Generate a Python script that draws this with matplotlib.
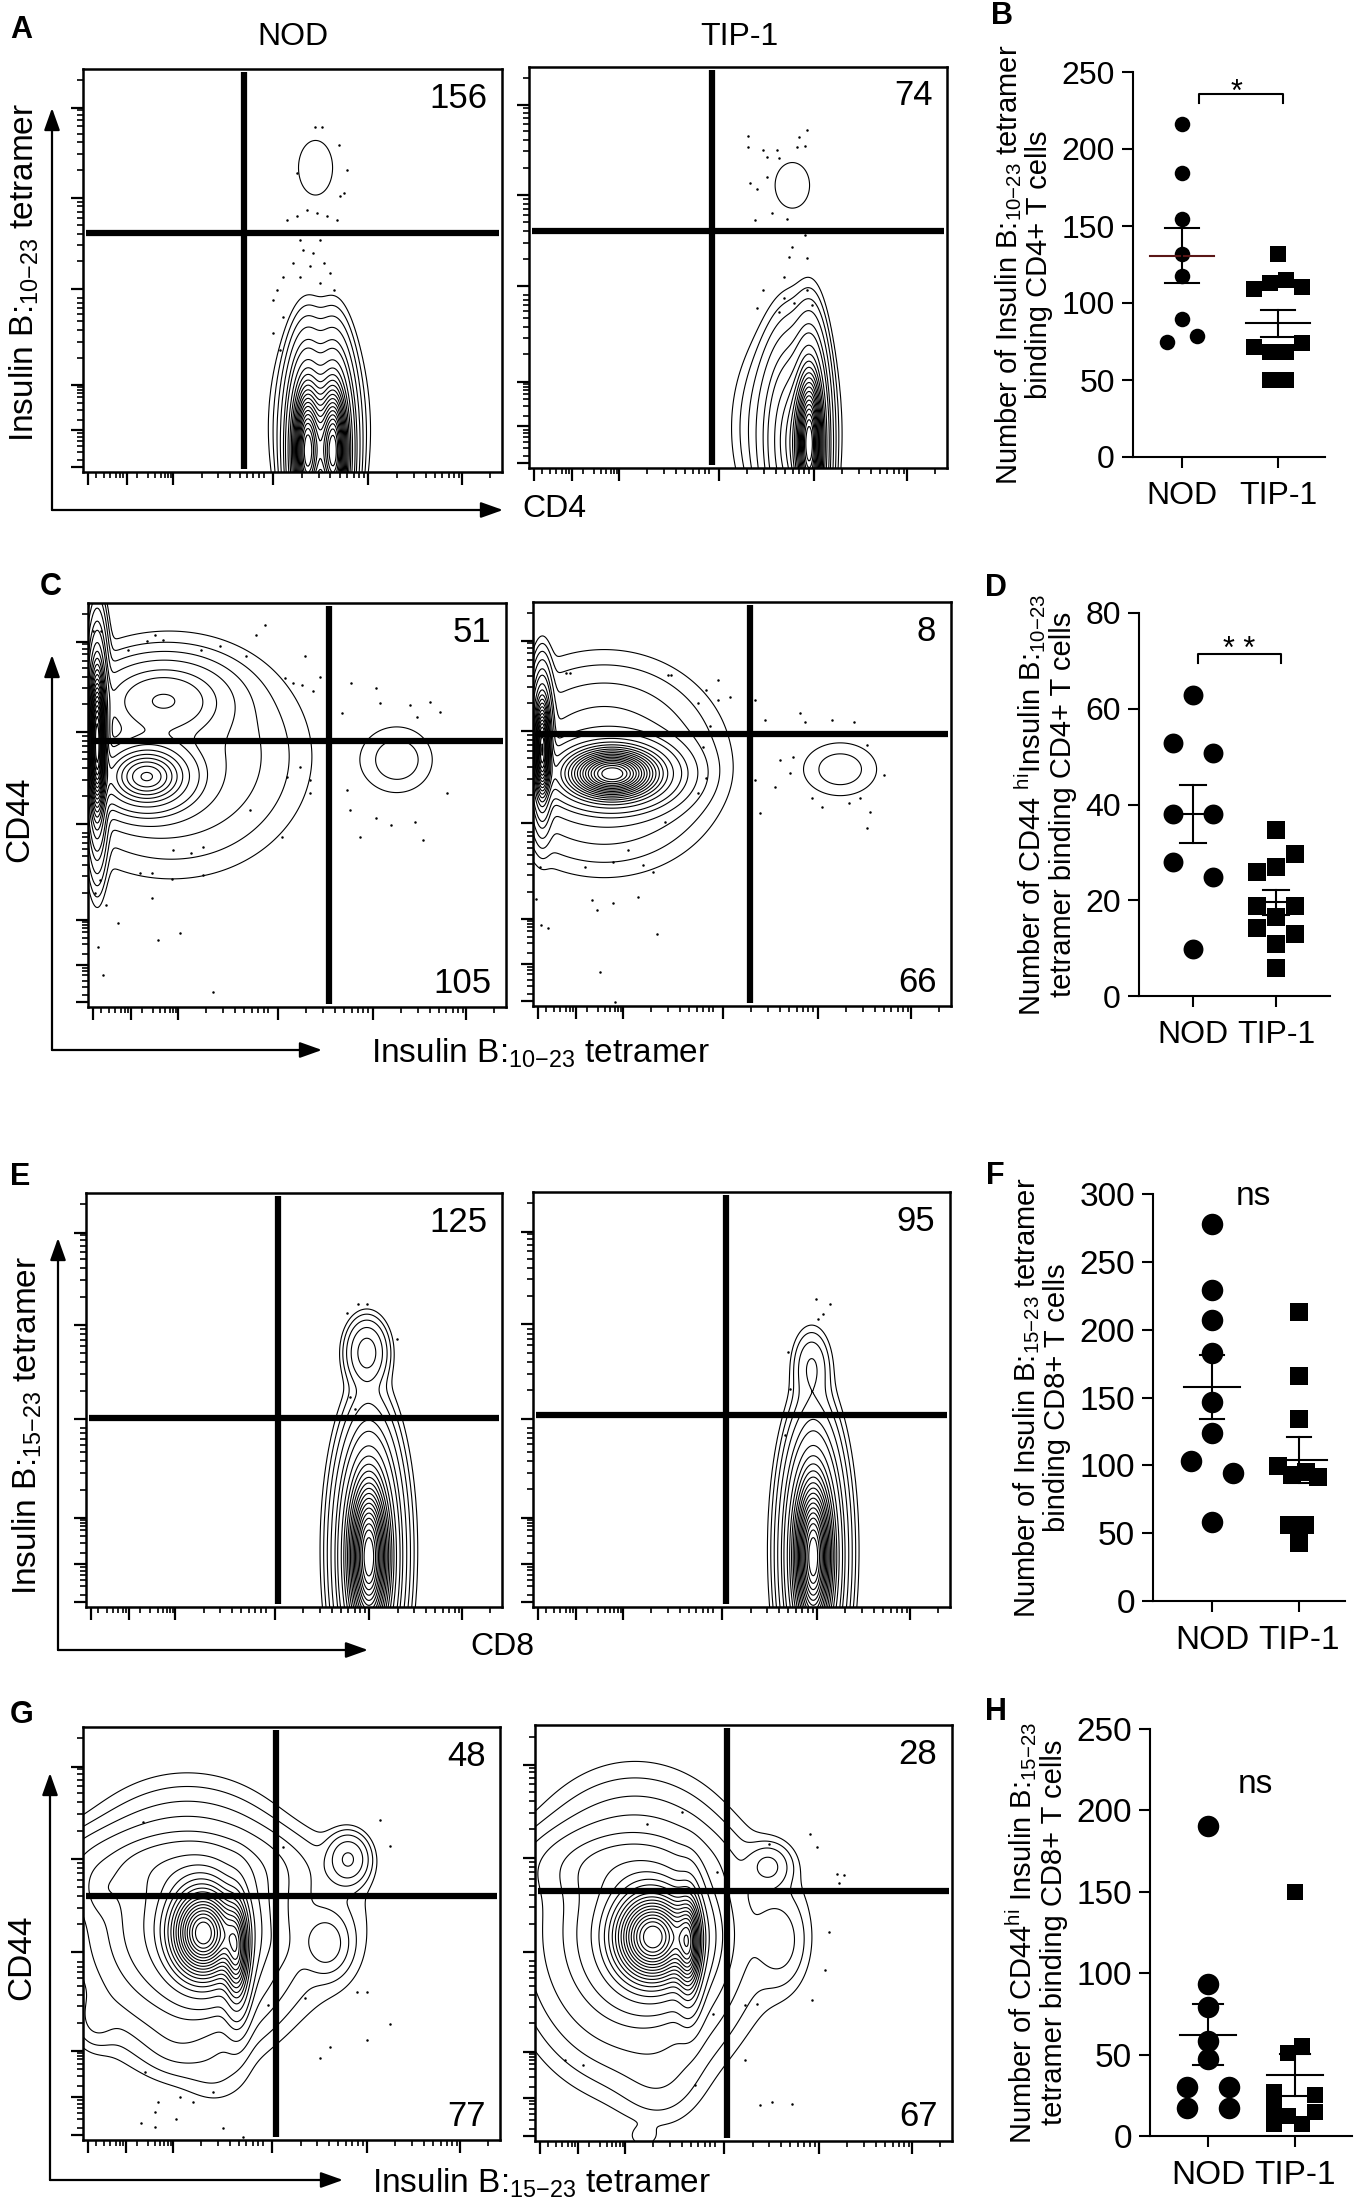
import numpy as np
import matplotlib.pyplot as plt

plt.rcParams['font.family'] = ['Liberation Sans', 'DejaVu Sans']
plt.rcParams['mathtext.fontset'] = 'custom'
plt.rcParams['mathtext.rm'] = 'Liberation Sans'
plt.rcParams['mathtext.it'] = 'Liberation Sans:italic'
plt.rcParams['mathtext.bf'] = 'Liberation Sans:bold'
plt.rcParams['mathtext.sf'] = 'Liberation Sans'

W, H = 1358, 2205

groups = ['NOD', 'TIP-1']

# ---------------- dot plots (B, D, F, H) ----------------
b_nod = [216.5, 184.6, 154.8, 131.6, 117.7, 89.4, 78.4, 74.7]
b_tip = [131.6, 109.1, 113.0, 115.2, 110.6, 71.4, 68.2, 68.2, 74.0, 49.8, 49.8]
b_mean = [130.7, 86.8]
b_sem = [18.0, 8.9]
b_nod_slot = [0, 0, 0, 0, 0, 0, 1, -1]
b_tip_slot = [0, -1.5, -0.5, 0.5, 1.5, -1.5, -0.5, 0.5, 1.5, -0.5, 0.5]

d_nod = [62.9, 52.8, 50.8, 38.0, 38.0, 27.9, 24.9, 9.9]
d_tip = [34.7, 29.7, 25.9, 27.0, 18.8, 18.8, 16.6, 14.1, 13.0, 10.8, 5.9]
d_mean = [38.0, 19.6]
d_sem = [6.05, 2.6]
d_nod_slot = [0, -1, 1, -1, 1, -1, 1, 0]
d_tip_slot = [0, 1, -1, 0, -1, 1, 0, -1, 1, 0, 0]

f_nod = [277.6, 229.2, 207.1, 182.6, 146.4, 123.6, 103.4, 94.1, 58.0]
f_tip = [212.8, 165.8, 133.9, 99.5, 92.9, 95.3, 91.2, 56.0, 56.0, 42.5]
f_mean = [157.7, 103.9]
f_sem = [23.5, 17.0]
f_nod_slot = [0, 0, 0, 0, 0, 0, -1, 1, 0]
f_tip_slot = [0, 0, 0, -3, -1, 1, 2.75, -1.5, 0.9, 0]

h_nod = [190.5, 93.3, 79.4, 58.4, 47.6, 30.1, 30.1, 17.4, 17.4]
h_tip = [149.7, 55.2, 51.1, 27.0, 17.0, 7.6, 25.0, 14.8, 7.6, 12.0]
h_mean = [62.3, 37.3]
h_sem = [18.5, 13.0]
h_nod_slot = [0, 0, 0, 0, 0, -1, 1, -1, 1]
h_tip_slot = [0, 1, -1, -3, -3, -3, 2.9, 2.9, 1, -1]

# ---------------- flow plots (A, C, E, G) ----------------
# populations: (x, y, sx, sy, weight) on the 0-1 display scale
pop_a_nod = [(0.535, 0.05, 0.022, 0.11, 1.0), (0.598, 0.05, 0.022, 0.11, 1.0),
             (0.565, 0.10, 0.045, 0.11, 0.08), (0.56, 0.14, 0.055, 0.13, 0.012),
             (0.555, 0.755, 0.042, 0.07, 0.0052)]
pop_a_tip = [(0.672, 0.06, 0.02, 0.12, 1.0), (0.63, 0.06, 0.035, 0.13, 0.25),
             (0.61, 0.10, 0.06, 0.12, 0.03), (0.63, 0.705, 0.045, 0.062, 0.0052)]
pop_c_nod = [(0.022, 0.66, 0.012, 0.12, 1.0), (0.14, 0.57, 0.06, 0.045, 0.45),
             (0.18, 0.76, 0.08, 0.05, 0.12), (0.2, 0.62, 0.155, 0.14, 0.032),
             (0.74, 0.612, 0.057, 0.055, 0.009)]
pop_c_tip = [(0.022, 0.64, 0.012, 0.08, 0.9), (0.19, 0.575, 0.07, 0.04, 1.0),
             (0.17, 0.6, 0.13, 0.12, 0.05), (0.735, 0.586, 0.06, 0.045, 0.009)]
pop_e_nod = [(0.68, 0.12, 0.032, 0.13, 1.0), (0.68, 0.15, 0.045, 0.15, 0.06),
             (0.675, 0.615, 0.026, 0.042, 0.07), (0.675, 0.45, 0.022, 0.07, 0.004)]
pop_e_tip = [(0.672, 0.12, 0.03, 0.13, 1.0), (0.672, 0.15, 0.042, 0.15, 0.06),
             (0.668, 0.58, 0.024, 0.048, 0.025), (0.672, 0.45, 0.02, 0.07, 0.004)]
pop_g_nod = [(0.29, 0.50, 0.05, 0.07, 1.0), (0.37, 0.45, 0.018, 0.08, 0.5),
             (0.25, 0.52, 0.12, 0.13, 0.2), (0.22, 0.66, 0.15, 0.05, 0.06),
             (0.04, 0.60, 0.03, 0.04, 0.03), (0.03, 0.29, 0.03, 0.04, 0.012),
             (0.23, 0.24, 0.05, 0.05, 0.01), (0.32, 0.16, 0.05, 0.05, 0.005),
             (0.636, 0.68, 0.027, 0.033, 0.06), (0.584, 0.476, 0.03, 0.04, 0.04),
             (0.6, 0.52, 0.07, 0.12, 0.006), (0.47, 0.47, 0.02, 0.03, 0.006)]
pop_g_tip = [(0.284, 0.49, 0.06, 0.07, 1.0), (0.37, 0.47, 0.018, 0.08, 0.5),
             (0.24, 0.5, 0.12, 0.15, 0.15), (0.2, 0.66, 0.12, 0.05, 0.05),
             (0.3, 0.15, 0.06, 0.07, 0.008), (0.56, 0.66, 0.03, 0.03, 0.03),
             (0.587, 0.48, 0.035, 0.06, 0.015), (0.58, 0.52, 0.06, 0.12, 0.005),
             (0.26, 0.01, 0.02, 0.015, 0.005)]

# outlier events
dots_a_nod_x = [0.486, 0.51, 0.534, 0.558, 0.582, 0.606, 0.494, 0.518, 0.566, 0.526, 0.55,
                0.502, 0.542, 0.574, 0.478, 0.518, 0.566, 0.59, 0.462, 0.598, 0.454, 0.478,
                0.454, 0.47, 0.614, 0.629, 0.622, 0.554, 0.57, 0.61, 0.51]
dots_a_nod_y = [0.626, 0.634, 0.65, 0.642, 0.634, 0.626, 0.592, 0.576, 0.576, 0.551, 0.543,
                0.518, 0.51, 0.518, 0.485, 0.485, 0.468, 0.493, 0.452, 0.452, 0.427, 0.385,
                0.344, 0.302, 0.684, 0.75, 0.692, 0.857, 0.857, 0.812, 0.742]
dots_a_tip_x = [0.525, 0.665, 0.645, 0.525, 0.561, 0.593, 0.641, 0.661, 0.569, 0.597, 0.569,
                0.529, 0.545, 0.581, 0.541, 0.617, 0.661, 0.629, 0.621, 0.665, 0.609, 0.561,
                0.665, 0.609, 0.633, 0.545, 0.677, 0.597]
dots_a_tip_y = [0.827, 0.842, 0.826, 0.801, 0.793, 0.793, 0.801, 0.802, 0.776, 0.772, 0.726,
                0.71, 0.697, 0.635, 0.618, 0.622, 0.581, 0.552, 0.527, 0.523, 0.477, 0.444,
                0.444, 0.423, 0.411, 0.398, 0.407, 0.39]
dots_c_nod_x = [0.012, 0.032, 0.14, 0.16, 0.18, 0.096, 0.271, 0.315, 0.403, 0.423, 0.379, 0.519,
                0.491, 0.555, 0.539, 0.471, 0.511, 0.63, 0.69, 0.607, 0.698, 0.77, 0.818, 0.842,
                0.786, 0.619, 0.858, 0.627, 0.69, 0.726, 0.782, 0.802, 0.65, 0.507, 0.531, 0.475,
                0.531, 0.387, 0.463, 0.275, 0.204, 0.247, 0.124, 0.152, 0.275, 0.2, 0.028, 0.016,
                0.044, 0.152, 0.072, 0.168, 0.219, 0.024, 0.036, 0.299]
dots_c_nod_y = [0.93, 0.93, 0.905, 0.921, 0.909, 0.884, 0.883, 0.893, 0.921, 0.946, 0.868, 0.868,
                0.802, 0.818, 0.781, 0.814, 0.798, 0.802, 0.789, 0.727, 0.752, 0.748, 0.756, 0.731,
                0.719, 0.537, 0.529, 0.488, 0.467, 0.45, 0.459, 0.413, 0.421, 0.595, 0.562, 0.57,
                0.529, 0.488, 0.421, 0.397, 0.388, 0.38, 0.331, 0.331, 0.326, 0.318, 0.314, 0.281,
                0.252, 0.269, 0.207, 0.165, 0.182, 0.149, 0.079, 0.037]
dots_c_tip_x = [0.08, 0.088, 0.323, 0.331, 0.443, 0.415, 0.395, 0.443, 0.471, 0.423, 0.531, 0.531,
                0.555, 0.639, 0.651, 0.715, 0.767, 0.407, 0.415, 0.395, 0.591, 0.623, 0.579, 0.615,
                0.799, 0.839, 0.667, 0.691, 0.755, 0.783, 0.543, 0.807, 0.799, 0.315, 0.228, 0.016,
                0.124, 0.192, 0.264, 0.288, 0.008, 0.14, 0.152, 0.192, 0.252, 0.02, 0.036, 0.296,
                0.16, 0.196]
dots_c_tip_y = [0.824, 0.824, 0.82, 0.82, 0.807, 0.783, 0.75, 0.758, 0.766, 0.692, 0.758, 0.56,
                0.708, 0.725, 0.704, 0.708, 0.704, 0.642, 0.564, 0.526, 0.609, 0.617, 0.543, 0.576,
                0.646, 0.572, 0.514, 0.493, 0.502, 0.514, 0.477, 0.481, 0.44, 0.456, 0.386, 0.345,
                0.345, 0.357, 0.349, 0.332, 0.266, 0.262, 0.237, 0.254, 0.27, 0.2, 0.192, 0.179,
                0.084, 0.01]
dots_e_nod_x = [0.655, 0.675, 0.627, 0.747, 0.635, 0.647, 0.651]
dots_e_nod_y = [0.733, 0.733, 0.709, 0.648, 0.507, 0.479, 0.459]
dots_e_tip_x = [0.678, 0.712, 0.696, 0.684, 0.612, 0.616, 0.604]
dots_e_tip_y = [0.741, 0.729, 0.707, 0.695, 0.614, 0.526, 0.414]
dots_g_nod_x = [0.144, 0.712, 0.48, 0.736, 0.532, 0.656, 0.68, 0.736, 0.68, 0.592, 0.568, 0.444,
                0.148, 0.232, 0.264, 0.18, 0.312, 0.172, 0.224, 0.14, 0.172, 0.336, 0.384]
dots_g_nod_y = [0.77, 0.774, 0.71, 0.711, 0.343, 0.359, 0.359, 0.282, 0.242, 0.226, 0.198, 0.327,
                0.165, 0.105, 0.093, 0.093, 0.117, 0.069, 0.052, 0.04, 0.032, 0.028, 0.008]
dots_g_tip_x = [0.352, 0.268, 0.66, 0.56, 0.676, 0.724, 0.74, 0.728, 0.436, 0.704, 0.696, 0.532,
                0.504, 0.664, 0.428, 0.504, 0.384, 0.116, 0.072, 0.54, 0.568, 0.616]
dots_g_tip_y = [0.791, 0.763, 0.739, 0.715, 0.707, 0.643, 0.639, 0.619, 0.647, 0.503, 0.411, 0.33,
                0.326, 0.338, 0.306, 0.194, 0.134, 0.182, 0.194, 0.086, 0.094, 0.09]

# quadrant event counts (upper right, lower right) for NOD, TIP-1
counts_a_ur = [156, 74]
counts_c_ur = [51, 8]
counts_c_lr = [105, 66]
counts_e_ur = [125, 95]
counts_g_ur = [48, 28]
counts_g_lr = [77, 67]

fig = plt.figure(figsize=(W / 100, H / 100), dpi=100)


def px_rect(l, t, r, b):
    return [l / W, 1 - b / H, (r - l) / W, (b - t) / H]


grid = np.linspace(0, 1, 321)
GX, GY = np.meshgrid(grid, grid)
levels = np.concatenate([np.geomspace(0.003, 0.048, 5), np.linspace(0.075, 0.94, 17)])

major_t = [0.012, 0.104, 0.215, 0.454, 0.681, 0.904]
minor_t = [0.03, 0.05, 0.065, 0.078, 0.088, 0.096, 0.13, 0.155, 0.172, 0.185, 0.195, 0.203, 0.21]
for d in [0.215, 0.454, 0.681, 0.904]:
    for k in range(2, 10):
        p = d + 0.227 * np.log10(k)
        if p < 0.995:
            minor_t.append(p)


def density(pops):
    z = np.zeros_like(GX)
    for x0, y0, sx, sy, w in pops:
        z += w * np.exp(-0.5 * (((GX - x0) / sx) ** 2 + ((GY - y0) / sy) ** 2))
    return z / z.max()


def flow_panel(rect, pops, dx, dy, gate, ur, lr=None):
    ax = fig.add_axes(px_rect(*rect))
    ax.contour(GX, GY, density(pops), levels=levels, colors='k', linewidths=0.8)
    ax.plot(dx, dy, 'o', ms=1.8, color='k', mec='none')
    gx, gy = gate
    ax.plot([gx, gx], [0.008, 0.992], color='k', lw=4.5, solid_capstyle='butt')
    ax.plot([0.008, 0.992], [gy, gy], color='k', lw=4.5, solid_capstyle='butt')
    ax.text(0.965, 0.928, str(ur), transform=ax.transAxes, ha='right', va='center', fontsize=25)
    if lr is not None:
        ax.text(0.965, 0.058, str(lr), transform=ax.transAxes, ha='right', va='center', fontsize=25)
    ax.set_xlim(0, 1)
    ax.set_ylim(0, 1)
    ax.set_xticks(major_t)
    ax.set_xticks(minor_t, minor=True)
    ax.set_yticks(major_t)
    ax.set_yticks(minor_t, minor=True)
    ax.tick_params(which='major', direction='out', length=9, width=1.6,
                   labelbottom=False, labelleft=False)
    ax.tick_params(which='minor', direction='out', length=4, width=1.2)
    for s in ax.spines.values():
        s.set_linewidth(1.8)
    return ax


flow_panel((83, 69, 502, 472), pop_a_nod, dots_a_nod_x, dots_a_nod_y, (0.384, 0.593), counts_a_ur[0])
flow_panel((529, 67, 947, 468), pop_a_tip, dots_a_tip_x, dots_a_tip_y, (0.438, 0.591), counts_a_ur[1])
flow_panel((88, 603, 506, 1007), pop_c_nod, dots_c_nod_x, dots_c_nod_y, (0.577, 0.658),
           counts_c_ur[0], counts_c_lr[0])
flow_panel((533, 602, 951, 1006), pop_c_tip, dots_c_tip_x, dots_c_tip_y, (0.519, 0.673),
           counts_c_ur[1], counts_c_lr[1])
flow_panel((86, 1193, 502, 1607), pop_e_nod, dots_e_nod_x, dots_e_nod_y, (0.462, 0.457), counts_e_ur[0])
flow_panel((533, 1192, 950, 1607), pop_e_tip, dots_e_tip_x, dots_e_tip_y, (0.463, 0.463), counts_e_ur[1])
flow_panel((83, 1727, 500, 2140), pop_g_nod, dots_g_nod_x, dots_g_nod_y, (0.463, 0.591),
           counts_g_ur[0], counts_g_lr[0])
flow_panel((535, 1725, 952, 2141), pop_g_tip, dots_g_tip_x, dots_g_tip_y, (0.46, 0.601),
           counts_g_ur[1], counts_g_lr[1])


def dot_panel(rect, nod, tip, nod_slot, tip_slot, nod_sp, tip_sp, mean, sem, xlim, ylim, yticks,
              ylabel, fs, s_c, s_s, mean_hw, cap_hw, mean_colors=('k', 'k')):
    ax = fig.add_axes(px_rect(*rect))
    ax.scatter(np.array(nod_slot) * nod_sp, nod, marker='o', s=s_c, color='k',
               linewidths=0, clip_on=False, zorder=3)
    ax.scatter(1 + np.array(tip_slot) * tip_sp, tip, marker='s', s=s_s, color='k',
               linewidths=0, clip_on=False, zorder=3)
    for i in range(2):
        m, e = mean[i], sem[i]
        ax.plot([i - mean_hw, i + mean_hw], [m, m], color=mean_colors[i], lw=1.5, zorder=4)
        ax.plot([i, i], [m - e, m + e], color='k', lw=1.5, zorder=4)
        for v in (m - e, m + e):
            ax.plot([i - cap_hw, i + cap_hw], [v, v], color='k', lw=1.5, zorder=4)
    ax.set_xlim(*xlim)
    ax.set_ylim(*ylim)
    ax.set_yticks(yticks)
    ax.set_xticks([0, 1])
    ax.set_xticklabels(groups)
    ax.spines['top'].set_visible(False)
    ax.spines['right'].set_visible(False)
    for s in ('left', 'bottom'):
        ax.spines[s].set_linewidth(1.5)
    ax.tick_params(direction='out', length=8, width=1.5, labelsize=fs, pad=5)
    ax.tick_params(axis='x', pad=9)
    ax.set_ylabel(ylabel, fontsize=21, labelpad=6, linespacing=1.05)
    return ax


axb = dot_panel((1133, 72, 1325, 457), b_nod, b_tip, b_nod_slot, b_tip_slot, 0.156, 0.167,
                b_mean, b_sem, (-0.51, 1.49), (0, 250), [0, 50, 100, 150, 200, 250],
                'Number of Insulin B:$_{\\mathrm{10{-}23}}$ tetramer\nbinding CD4+ T cells',
                23, 125, 135, 0.33, 0.18, mean_colors=('#5a1616', 'k'))
axb.plot([0.174, 0.174, 1.049, 1.049], [229.8, 235.5, 235.5, 229.8], color='k', lw=1.5, clip_on=False)
axb.text(0.57, 231, '*', ha='center', va='baseline', fontsize=22)

axd = dot_panel((1139, 613, 1330, 996), d_nod, d_tip, d_nod_slot, d_tip_slot, 0.238, 0.234,
                d_mean, d_sem, (-0.65, 1.65), (0, 80), [0, 20, 40, 60, 80],
                'Number of CD44 $^{\\mathrm{hi}}$Insulin B:$_{\\mathrm{10{-}23}}$\ntetramer binding CD4+ T cells',
                23, 205, 160, 0.2, 0.16)
axd.plot([0.06, 0.06, 1.06, 1.06], [69.6, 71.5, 71.5, 69.6], color='k', lw=1.5, clip_on=False)
axd.text(0.56, 70.6, '* *', ha='center', va='baseline', fontsize=22)

axf = dot_panel((1153, 1194, 1345, 1601), f_nod, f_tip, f_nod_slot, f_tip_slot, 0.244, 0.08,
                f_mean, f_sem, (-0.68, 1.53), (0, 300), [0, 50, 100, 150, 200, 250, 300],
                'Number of Insulin B:$_{\\mathrm{15{-}23}}$ tetramer\nbinding CD8+ T cells',
                24, 240, 175, 0.32, 0.14)
axf.text(0.48, 292, 'ns', ha='center', va='baseline', fontsize=24)

axh = dot_panel((1150, 1729, 1352, 2136), h_nod, h_tip, h_nod_slot, h_tip_slot, 0.24, 0.08,
                h_mean, h_sem, (-0.67, 1.66), (0, 250), [0, 50, 100, 150, 200, 250],
                'Number of CD44$^{\\mathrm{hi}}$ Insulin B:$_{\\mathrm{15{-}23}}$\ntetramer binding CD8+ T cells',
                24, 240, 145, 0.32, 0.17)
axh.text(0.55, 210.6, 'ns', ha='center', va='baseline', fontsize=24)

# ---------------- overlay: arrows, labels, panel letters ----------------
ov = fig.add_axes([0, 0, 1, 1], zorder=10)
ov.set_xlim(0, W)
ov.set_ylim(H, 0)
ov.axis('off')

arrow = dict(arrowstyle='-|>,head_length=0.9,head_width=0.32', lw=1.6, color='k',
             mutation_scale=15, shrinkA=0, shrinkB=0)
for (x0, y0, xt, yt) in [(52, 510, 52, 108), (52, 510, 503, 510),
                         (52, 1050, 52, 655), (52, 1050, 322, 1050),
                         (58, 1650, 58, 1238), (58, 1650, 368, 1650),
                         (50, 2180, 50, 1773), (50, 2180, 343, 2180)]:
    ov.annotate('', xy=(xt, yt), xytext=(x0, y0), arrowprops=arrow)

ov.text(293, 37, 'NOD', ha='center', va='center', fontsize=23)
ov.text(739, 37, 'TIP-1', ha='center', va='center', fontsize=23)

ov.text(24, 272, 'Insulin B:$_{\\mathrm{10{-}23}}$ tetramer', rotation=90, ha='center', va='center', fontsize=24)
ov.text(522, 517, 'CD4', ha='left', va='baseline', fontsize=23)
ov.text(20, 819, 'CD44', rotation=90, ha='center', va='center', fontsize=24)
ov.text(371, 1063, 'Insulin B:$_{\\mathrm{10{-}23}}$ tetramer', ha='left', va='baseline', fontsize=24)
ov.text(27, 1425, 'Insulin B:$_{\\mathrm{15{-}23}}$ tetramer', rotation=90, ha='center', va='center', fontsize=24)
ov.text(470, 1655, 'CD8', ha='left', va='baseline', fontsize=23)
ov.text(22, 1957, 'CD44', rotation=90, ha='center', va='center', fontsize=24)
ov.text(372, 2193, 'Insulin B:$_{\\mathrm{15{-}23}}$ tetramer', ha='left', va='baseline', fontsize=24)

for letter, x, y in [('A', 21, 30), ('B', 1002, 16), ('C', 51, 587), ('D', 996, 588),
                     ('E', 20, 1177), ('F', 995, 1176), ('G', 22, 1715), ('H', 996, 1712)]:
    ov.text(x, y, letter, ha='center', va='center', fontsize=22, fontweight='bold')

fig.savefig('out.png', dpi=100)
